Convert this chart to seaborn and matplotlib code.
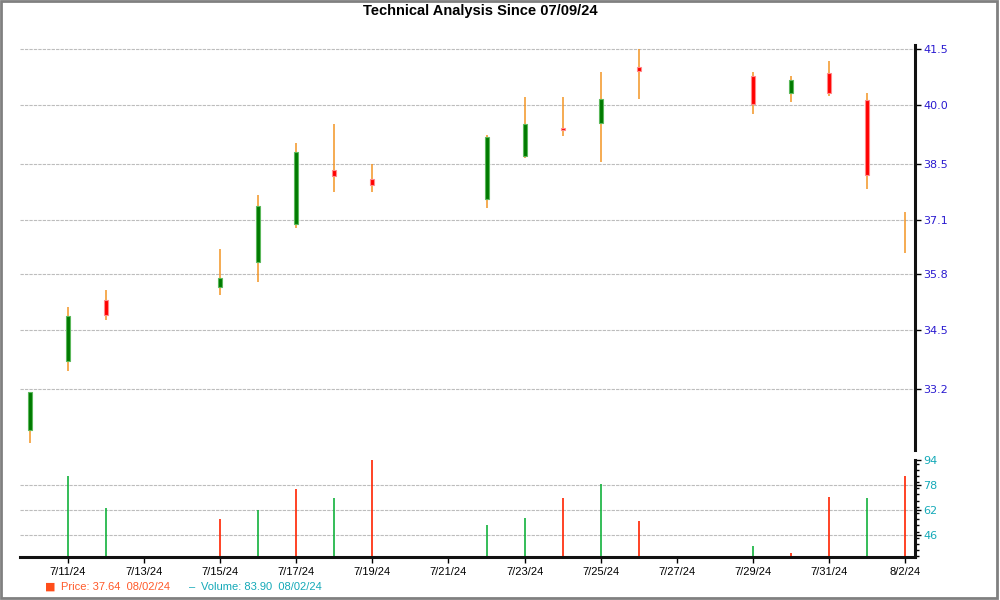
import numpy as np
import pandas as pd
import matplotlib
matplotlib.use("Agg")
import matplotlib.pyplot as plt
import matplotlib.dates as mdates
from matplotlib.ticker import FixedLocator, FuncFormatter, MultipleLocator, NullLocator
import seaborn as sns

# ---------------- data ----------------
dates = ["2024-07-10", "2024-07-11", "2024-07-12", "2024-07-15", "2024-07-16", "2024-07-17",
         "2024-07-18", "2024-07-19", "2024-07-22", "2024-07-23", "2024-07-24", "2024-07-25",
         "2024-07-26", "2024-07-29", "2024-07-30", "2024-07-31", "2024-08-01", "2024-08-02"]
open_ = [32.32, 33.82, 35.20, 35.50, 36.08, 37.00, 38.33, 38.12, 37.62, 38.69, 39.40, 39.53,
         41.01, 40.77, 40.32, 40.85, 40.14, 36.67]
high = [33.14, 35.03, 35.43, 36.40, 37.70, 39.01, 39.51, 38.50, 39.24, 40.22, 40.22, 40.88,
        41.50, 40.88, 40.78, 41.18, 40.33, 37.29]
low = [32.03, 33.59, 34.73, 35.30, 35.61, 36.90, 37.79, 37.79, 37.39, 38.64, 39.21, 38.55,
       40.17, 39.78, 40.08, 40.26, 37.85, 36.31]
close = [33.14, 34.82, 34.86, 35.71, 37.44, 38.79, 38.18, 37.97, 39.18, 39.51, 39.37, 40.16,
         40.91, 40.04, 40.67, 40.32, 38.22, 36.67]
volume = [np.nan, 84.1, 63.0, 55.9, 61.7, 75.7, 69.9, 94.0, 52.0, 57.0, 69.9, 78.9,
          54.6, 38.4, 33.9, 70.1, 69.9, 83.9]
vol_dir = ["up", "up", "up", "down", "up", "down", "up", "down", "up", "up", "down", "up",
           "down", "up", "down", "down", "up", "down"]

price_ticks = [33.2, 34.5, 35.8, 37.1, 38.5, 40.0, 41.5]
volume_ticks = [46, 62, 78, 94]
title = "Technical Analysis Since 07/09/24"
legend_price = "Price: 37.64  08/02/24"
legend_volume = "Volume: 83.90  08/02/24"

# ---------------- style ----------------
sns.set_theme(style="white")
plt.rcParams["font.family"] = ["DejaVu Sans"]

df = pd.DataFrame({"date": pd.to_datetime(dates), "open": open_, "high": high,
                   "low": low, "close": close, "volume": volume, "vdir": vol_dir})

fig = plt.figure(figsize=(10, 6), dpi=100)
fig.patch.set_facecolor("white")

ax = fig.add_axes([0.02, 0.25, 0.895, 0.675])
axv = fig.add_axes([0.02, 1 - 557 / 600, 0.895, 97 / 600])

xmin = pd.Timestamp("2024-07-11") - pd.Timedelta(days=48 / 38)
xmax = pd.Timestamp("2024-08-02") + pd.Timedelta(days=10 / 38)

wick_c = "#f39423"
green_body, green_edge = "#007a00", "#5cb85c"
red_body, red_edge = "#ff0000", "#ff8a8a"

# wicks
ax.vlines(df["date"], df["low"], df["high"], color=wick_c, lw=1.1, zorder=2)
# bodies
bw = 4 / 38
for _, r in df.iterrows():
    lo, hi = min(r["open"], r["close"]), max(r["open"], r["close"])
    if hi - lo < 1e-9:
        continue
    up = r["close"] > r["open"]
    ax.bar(r["date"], hi - lo, bottom=lo, width=bw,
           color=green_body if up else red_body,
           edgecolor=green_edge if up else red_edge, linewidth=0.8, zorder=3)

ax.set_yscale("log")
ax.set_ylim(31.89, 41.62)
ax.set_xlim(xmin, xmax)
ax.yaxis.set_major_locator(FixedLocator(price_ticks))
ax.yaxis.set_minor_locator(NullLocator())
ax.yaxis.set_major_formatter(FuncFormatter(lambda v, p: f"{v:.1f}"))
ax.yaxis.tick_right()
ax.tick_params(axis="y", which="major", direction="out", length=4, width=1, color="black",
               labelcolor="#2a1ad0", labelsize=8, pad=2, right=True, left=False)
ax.set_xticks([])
ax.grid(axis="y", color="#bdbdbd", linestyle=(0, (3, 1)), linewidth=0.8)
for s in ["left", "top", "bottom"]:
    ax.spines[s].set_visible(False)
ax.spines["right"].set_linewidth(2.2)
ax.spines["right"].set_color("#111111")

# volume
vcolors = ["#12b23c" if d == "up" else "#ff2200" for d in df["vdir"]]
axv.vlines(df["date"], 0, df["volume"], colors=vcolors, lw=1.2, zorder=2)
axv.set_ylim(31.5, 94.3)
axv.set_xlim(xmin, xmax)
axv.yaxis.set_major_locator(FixedLocator(volume_ticks))
axv.yaxis.set_minor_locator(MultipleLocator(4))
axv.yaxis.tick_right()
axv.tick_params(axis="y", which="major", direction="out", length=4, width=1, color="black",
                labelcolor="#14a9b8", labelsize=8, pad=2, right=True, left=False)
axv.tick_params(axis="y", which="minor", direction="out", length=3, width=1, color="black",
                right=True, left=False)
axv.grid(axis="y", which="major", color="#bdbdbd", linestyle=(0, (3, 1)), linewidth=0.8)

xt = pd.date_range("2024-07-11", "2024-08-02", freq="2D")
axv.set_xticks(xt)
axv.set_xticklabels([f"{d.month}/{d.day}/{d:%y}" for d in xt], fontfamily="Liberation Sans",
                    fontsize=8, color="black")
axv.tick_params(axis="x", direction="out", length=4, width=1, color="black", pad=3, bottom=True)
for s in ["left", "top"]:
    axv.spines[s].set_visible(False)
for s in ["right", "bottom"]:
    axv.spines[s].set_linewidth(2.2)
    axv.spines[s].set_color("#111111")

# hide the gridline at the top volume tick (not drawn in the reference)
fig.canvas.draw()
for tick in axv.yaxis.get_major_ticks():
    if abs(tick.get_loc() - 94) < 1e-6:
        tick.gridline.set_visible(False)

# title
fig.text(0.4805, 1 - 10.5 / 600, title, ha="center", va="center", fontsize=10.5,
         fontweight="bold", fontfamily="Liberation Sans", color="black")

# legend
fig.text(0.0505, 1 - 587 / 600, "\u25A0", ha="center", va="center", fontsize=8,
         color="#ff4d1a", fontfamily="DejaVu Sans")
fig.text(0.061, 1 - 587 / 600, legend_price, ha="left", va="center", fontsize=8,
         color="#ff5a2a", fontfamily="Liberation Sans")
fig.text(0.1925, 1 - 587 / 600, "\u2013", ha="center", va="center", fontsize=8,
         color="#14a9b8", fontfamily="Liberation Sans")
fig.text(0.201, 1 - 587 / 600, legend_volume, ha="left", va="center", fontsize=8,
         color="#14a9b8", fontfamily="Liberation Sans")

# outer frame
fig.add_artist(plt.Rectangle((0.001, 0.004), 0.996, 0.995, transform=fig.transFigure,
                             fill=False, edgecolor="#808080", linewidth=2))

fig.savefig("out.png", dpi=100, facecolor="white")
